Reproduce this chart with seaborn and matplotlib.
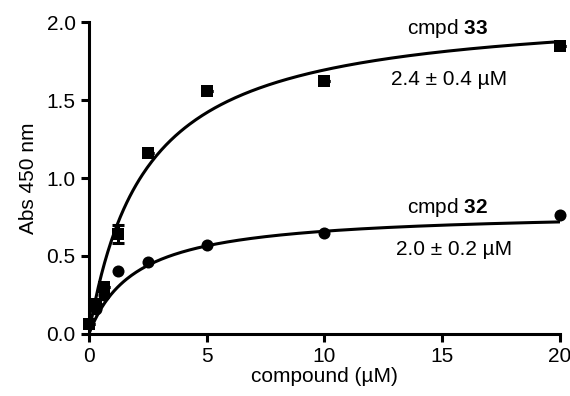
import numpy as np
import pandas as pd
import matplotlib
matplotlib.use("Agg")
import matplotlib.pyplot as plt
import seaborn as sns

# --- data ---
conc = [0, 0.3125, 0.625, 1.25, 2.5, 5, 10, 20]
abs33 = [0.06, 0.19, 0.30, 0.64, 1.16, 1.56, 1.62, 1.85]
err33 = [0, 0, 0, 0.06, 0, 0, 0, 0]
conc32 = [0.3125, 0.625, 1.25, 2.5, 5, 10, 20]
abs32 = [0.16, 0.25, 0.40, 0.46, 0.57, 0.65, 0.76]

# one-site binding fit parameters (Kd from the labels, Bmax)
kd = {"33": 2.4, "32": 2.0}
bmax = {"33": 2.10, "32": 0.79}
labels = {"33": "2.4 ± 0.4 µM", "32": "2.0 ± 0.2 µM"}

sns.set_theme(style="ticks")
plt.rcParams["font.family"] = ["Liberation Sans", "DejaVu Sans"]
plt.rcParams["mathtext.fontset"] = "custom"
plt.rcParams["mathtext.rm"] = "Liberation Sans"
plt.rcParams["mathtext.bf"] = "Liberation Sans:bold"
plt.rcParams["text.color"] = "black"
plt.rcParams["axes.labelcolor"] = "black"

fig = plt.figure(figsize=(5.7, 3.96), dpi=100)
ax = fig.add_axes([0.156, 0.157, 0.826, 0.787])

# fitted curves
xs = np.linspace(0, 20, 300)
fit = pd.DataFrame({
    "x": np.concatenate([xs, xs]),
    "y": np.concatenate([bmax["33"] * xs / (kd["33"] + xs),
                         bmax["32"] * xs / (kd["32"] + xs)]),
    "cmpd": ["33"] * len(xs) + ["32"] * len(xs),
})
sns.lineplot(data=fit, x="x", y="y", units="cmpd", estimator=None,
             color="black", lw=2.2, ax=ax, legend=False)

# data points
ax.errorbar(conc, abs33, yerr=err33, fmt="none", ecolor="black",
            elinewidth=2.2, capsize=4, capthick=2.2, clip_on=False)
sns.scatterplot(x=conc, y=abs33, marker="s", s=80, color="black",
                edgecolor="black", linewidth=0, ax=ax, clip_on=False, zorder=5)
sns.scatterplot(x=conc32, y=abs32, marker="o", s=75, color="black",
                edgecolor="black", linewidth=0, ax=ax, clip_on=False, zorder=5)

# annotations
fs = 15
ax.text(15.25, 1.96, r"cmpd $\mathbf{33}$", ha="center", va="center", fontsize=fs)
ax.text(15.3, 1.635, labels["33"], ha="center", va="center", fontsize=fs)
ax.text(15.25, 0.81, r"cmpd $\mathbf{32}$", ha="center", va="center", fontsize=fs)
ax.text(15.5, 0.54, labels["32"], ha="center", va="center", fontsize=fs)

ax.set_xlim(0, 20)
ax.set_ylim(0, 2.0)
ax.set_xticks([0, 5, 10, 15, 20])
ax.set_yticks([0, 0.5, 1.0, 1.5, 2.0])
ax.set_yticklabels(["0.0", "0.5", "1.0", "1.5", "2.0"])
ax.set_xlabel("compound (µM)", fontsize=fs, labelpad=1)
ax.set_ylabel("Abs 450 nm", fontsize=fs, labelpad=6)
ax.tick_params(labelsize=fs, width=2.2, length=6, color="black", labelcolor="black")
sns.despine(ax=ax)
for side in ["left", "bottom"]:
    ax.spines[side].set_linewidth(2.2)
    ax.spines[side].set_color("black")

fig.savefig("out.png", dpi=100)
